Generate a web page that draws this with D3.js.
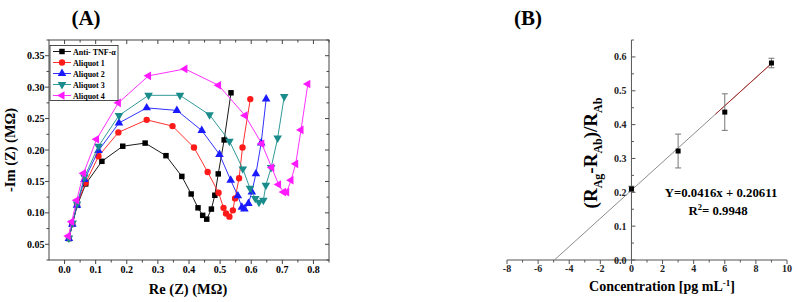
<!DOCTYPE html>
<html><head><meta charset="utf-8">
<script src="https://cdn.jsdelivr.net/npm/d3@7"></script>
<style>body{margin:0;background:#fff}svg{display:block}text{font-family:"Liberation Serif","Times New Roman",serif;font-weight:bold}</style>
</head><body><svg id="c" width="798" height="302"></svg>
<script>
// ---------- Panel A data (Nyquist) ----------
const seriesNames = ["Anti- TNF-α","Aliquot 1","Aliquot 2","Aliquot 3","Aliquot 4"];
const seriesColors = ["#000000","#ff1a1a","#1a1aff","#1a8c8c","#ff1aff"];
const antiRe = [0.0145,0.025,0.041,0.068,0.12,0.187,0.259,0.326,0.377,0.407,0.429,0.444,0.457,0.472,0.483,0.494,0.513,0.535];
const antiIm = [0.059,0.082,0.112,0.146,0.182,0.206,0.211,0.191,0.158,0.130,0.108,0.096,0.090,0.106,0.128,0.162,0.216,0.291];
const al1Re = [0.014,0.025,0.040,0.068,0.109,0.173,0.264,0.347,0.416,0.460,0.495,0.511,0.519,0.530,0.541,0.548,0.561,0.572,0.597];
const al1Im = [0.060,0.082,0.113,0.148,0.190,0.228,0.248,0.238,0.204,0.165,0.132,0.108,0.099,0.094,0.104,0.123,0.155,0.204,0.281];
const al2Re = [0.014,0.025,0.040,0.064,0.109,0.175,0.264,0.361,0.441,0.498,0.534,0.557,0.570,0.578,0.591,0.602,0.615,0.632,0.648];
const al2Im = [0.059,0.082,0.112,0.153,0.199,0.243,0.267,0.263,0.231,0.193,0.152,0.127,0.109,0.106,0.115,0.133,0.162,0.211,0.281];
const al3Re = [0.014,0.026,0.040,0.064,0.109,0.175,0.270,0.371,0.466,0.530,0.573,0.596,0.613,0.625,0.639,0.647,0.664,0.685,0.706];
const al3Im = [0.060,0.084,0.114,0.157,0.206,0.255,0.287,0.287,0.256,0.214,0.170,0.139,0.123,0.117,0.120,0.144,0.172,0.219,0.285];
const al4Re = [0.012,0.023,0.039,0.061,0.103,0.173,0.270,0.387,0.495,0.580,0.634,0.666,0.688,0.704,0.714,0.728,0.743,0.760,0.782];
const al4Im = [0.063,0.086,0.120,0.163,0.217,0.275,0.318,0.329,0.303,0.255,0.210,0.172,0.145,0.133,0.133,0.152,0.178,0.232,0.305];
const aXTicks = [0.0,0.1,0.2,0.3,0.4,0.5,0.6,0.7,0.8];
const aYTicks = [0.05,0.10,0.15,0.20,0.25,0.30,0.35];

// ---------- Panel B data (calibration) ----------
const concX = [0,3,6,9];
const ratioY = [0.210,0.322,0.437,0.582];
const ratioErr = [0.008,0.050,0.054,0.014];
const fitSlope = 0.0416, fitIntercept = 0.20611;
const bXTicks = [-8,-6,-4,-2,0,2,4,6,8,10];
const bYTicks = [0.0,0.1,0.2,0.3,0.4,0.5,0.6];

const svg = d3.select("#c");

// ================= Panel A =================
const xA = d3.scaleLinear().domain([-0.05,0.85]).range([49,329]);
const yA = d3.scaleLinear().domain([0.025,0.375]).range([260,40]);
const gA = svg.append("g");
gA.append("rect").attr("x",49).attr("y",40).attr("width",280).attr("height",220)
  .attr("fill","none").attr("stroke","#444").attr("stroke-width",1);

const xMinor = d3.range(0,0.851,0.05);
const yMinor = d3.range(0.025,0.376,0.025);
xMinor.forEach((v,i)=>{
  const major = Math.abs(v*10-Math.round(v*10))<1e-6;
  const L = major?4:2.5;
  gA.append("line").attr("x1",xA(v)).attr("x2",xA(v)).attr("y1",260).attr("y2",260+L).attr("stroke","#444");
  gA.append("line").attr("x1",xA(v)).attr("x2",xA(v)).attr("y1",40).attr("y2",40+L).attr("stroke","#444");
});
yMinor.forEach(v=>{
  const major = Math.abs(v*20-Math.round(v*20))<1e-6;
  const L = major?4:2.5;
  gA.append("line").attr("y1",yA(v)).attr("y2",yA(v)).attr("x1",49).attr("x2",49-L).attr("stroke","#444");
  gA.append("line").attr("y1",yA(v)).attr("y2",yA(v)).attr("x1",329).attr("x2",329-L).attr("stroke","#444");
});
aXTicks.forEach(v=>gA.append("text").attr("x",xA(v)).attr("y",273).attr("text-anchor","middle")
  .attr("font-size",10).text(d3.format(".1f")(v)));
aYTicks.forEach(v=>gA.append("text").attr("x",44.5).attr("y",yA(v)+3.5).attr("text-anchor","end")
  .attr("font-size",10).text(d3.format(".2f")(v)));
gA.append("text").attr("x",188).attr("y",294).attr("text-anchor","middle").attr("font-size",14.5).text("Re (Z) (MΩ)");
gA.append("text").attr("transform","translate(15,150) rotate(-90)").attr("text-anchor","middle").attr("font-size",14.5).text("-Im (Z) (MΩ)");
gA.append("text").attr("x",86).attr("y",25).attr("text-anchor","middle").attr("font-size",21).text("(A)");

const series = [[antiRe,antiIm],[al1Re,al1Im],[al2Re,al2Im],[al3Re,al3Im],[al4Re,al4Im]];
const symbols = [d3.symbolSquare,d3.symbolCircle,d3.symbolTriangle,d3.symbolTriangle,d3.symbolTriangle];
const rotations = [0,0,0,180,-90];
const symSizes = [30,32,32,32,32];
const line = d3.line().x(d=>xA(d[0])).y(d=>yA(d[1]));
series.forEach((s,i)=>{
  const pts = s[0].map((x,j)=>[x,s[1][j]]);
  gA.append("path").attr("d",line(pts)).attr("fill","none").attr("stroke",seriesColors[i]).attr("stroke-width",0.9);
  const sym = d3.symbol().type(symbols[i]).size(symSizes[i]);
  gA.selectAll(null).data(pts).enter().append("path").attr("d",sym)
    .attr("transform",d=>`translate(${xA(d[0])},${yA(d[1])}) rotate(${rotations[i]})`)
    .attr("fill",seriesColors[i]);
});
// legend
const lg = gA.append("g");
lg.append("rect").attr("x",50).attr("y",45.5).attr("width",68).attr("height",55).attr("fill","#fff").attr("stroke","#222").attr("stroke-width",0.8);
seriesNames.forEach((n,i)=>{
  const yy = 51.5 + i*11;
  lg.append("line").attr("x1",53).attr("x2",71).attr("y1",yy).attr("y2",yy).attr("stroke",seriesColors[i]).attr("stroke-width",0.9);
  lg.append("path").attr("d",d3.symbol().type(symbols[i]).size(symSizes[i]))
    .attr("transform",`translate(62,${yy}) rotate(${rotations[i]})`).attr("fill",seriesColors[i]);
  lg.append("text").attr("x",73).attr("y",yy+3).attr("font-size",8).text(n);
});

// ================= Panel B =================
const xB = d3.scaleLinear().domain([-8,10]).range([507,787]);
const yB = d3.scaleLinear().domain([0,0.65]).range([260,40]);
const gB = svg.append("g");
gB.append("line").attr("x1",xB(-8)).attr("x2",xB(10)).attr("y1",yB(0)).attr("y2",yB(0)).attr("stroke","#555");
gB.append("line").attr("x1",xB(0)).attr("x2",xB(0)).attr("y1",yB(0)).attr("y2",yB(0.65)).attr("stroke","#555");
d3.range(-8,10.1,1).forEach(v=>{
  const L = (v%2===0)?4:2.5;
  gB.append("line").attr("x1",xB(v)).attr("x2",xB(v)).attr("y1",yB(0)).attr("y2",yB(0)+L).attr("stroke","#555");
});
d3.range(0,0.651,0.05).forEach((v,i)=>{
  const L = (i%2===0)?4:2.5;
  gB.append("line").attr("x1",xB(0)).attr("x2",xB(0)+L).attr("y1",yB(v)).attr("y2",yB(v)).attr("stroke","#555");
});
bXTicks.forEach(v=>gB.append("text").attr("x",xB(v)).attr("y",272).attr("text-anchor","middle").attr("font-size",10).attr("fill","#222").text(v));
bYTicks.forEach(v=>gB.append("text").attr("x",xB(0)-5).attr("y",yB(v)+3.5).attr("text-anchor","end").attr("font-size",10).attr("fill","#222").text(d3.format(".1f")(v)));

// fit lines
const x0 = -fitIntercept/fitSlope;
gB.append("line").attr("x1",xB(x0)).attr("y1",yB(0)).attr("x2",xB(9)).attr("y2",yB(fitSlope*9+fitIntercept)).attr("stroke","#8c8c8c").attr("stroke-width",1);
gB.append("line").attr("x1",xB(5.4)).attr("y1",yB(fitSlope*5.4+fitIntercept)).attr("x2",xB(9)).attr("y2",yB(fitSlope*9+fitIntercept)).attr("stroke","#b02a2a").attr("stroke-width",1);
// error bars
concX.forEach((c,i)=>{
  const cx=xB(c), t=yB(ratioY[i]+ratioErr[i]), b=yB(ratioY[i]-ratioErr[i]);
  gB.append("line").attr("x1",cx).attr("x2",cx).attr("y1",t).attr("y2",b).attr("stroke","#777");
  gB.append("line").attr("x1",cx-3).attr("x2",cx+3).attr("y1",t).attr("y2",t).attr("stroke","#777");
  gB.append("line").attr("x1",cx-3).attr("x2",cx+3).attr("y1",b).attr("y2",b).attr("stroke","#777");
});
gB.selectAll(null).data(concX).enter().append("rect")
  .attr("x",(d)=>xB(d)-2.5).attr("y",(d,i)=>yB(ratioY[i])-2.5).attr("width",5).attr("height",5).attr("fill","#000");

gB.append("text").attr("x",721).attr("y",197).attr("text-anchor","middle").attr("font-size",12.8).text("Y=0.0416x + 0.20611");
const r2 = gB.append("text").attr("x",718).attr("y",215).attr("text-anchor","middle").attr("font-size",12.8);
r2.append("tspan").text("R");
r2.append("tspan").attr("dy",-5).attr("font-size",8.5).text("2");
r2.append("tspan").attr("dy",5).text("= 0.9948");

const xl = gB.append("text").attr("x",662).attr("y",291).attr("text-anchor","middle").attr("font-size",14);
xl.append("tspan").text("Concentration [pg mL");
xl.append("tspan").attr("dy",-5).attr("font-size",9).text("-1");
xl.append("tspan").attr("dy",5).text("]");

const yl = gB.append("text").attr("transform","translate(597,153) rotate(-90)").attr("text-anchor","middle").attr("font-size",19);
yl.append("tspan").text("(R");
yl.append("tspan").attr("dy",5).attr("font-size",12).text("Ag");
yl.append("tspan").attr("dy",-5).text("-R");
yl.append("tspan").attr("dy",5).attr("font-size",12).text("Ab");
yl.append("tspan").attr("dy",-5).text(")/R");
yl.append("tspan").attr("dy",5).attr("font-size",12).text("Ab");

gB.append("text").attr("x",528).attr("y",25).attr("text-anchor","middle").attr("font-size",21).text("(B)");
</script></body></html>
